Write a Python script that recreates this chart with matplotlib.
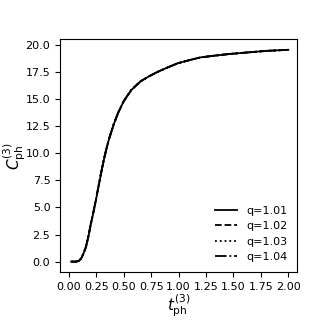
"""Phonon heat capacity C_ph^(3) vs t_ph^(3) for several q values."""
import matplotlib
matplotlib.use("Agg")
import matplotlib.pyplot as plt
from matplotlib.ticker import FormatStrFormatter

# values (the four q curves overlap almost exactly)
t_ph = [0.02, 0.06, 0.09, 0.11, 0.13, 0.155, 0.18, 0.20, 0.225, 0.245,
        0.27, 0.29, 0.32, 0.36, 0.41, 0.45, 0.50, 0.57, 0.655, 0.73,
        0.81, 0.90, 0.99, 1.10, 1.20, 1.32, 1.45, 1.62, 1.80, 2.00]
c_q101 = [0.0, 0.0, 0.05, 0.25, 0.65, 1.3, 2.4, 3.45, 4.6, 5.6,
          6.9, 7.95, 9.45, 11.1, 12.7, 13.75, 14.8, 15.85, 16.65, 17.1,
          17.52, 17.92, 18.3, 18.6, 18.85, 19.0, 19.15, 19.3, 19.45, 19.55]
c_q102 = [0.0, 0.0, 0.05, 0.26, 0.67, 1.32, 2.42, 3.47, 4.62, 5.62,
          6.92, 7.97, 9.47, 11.12, 12.71, 13.75, 14.8, 15.85, 16.65, 17.1,
          17.52, 17.92, 18.3, 18.6, 18.85, 19.0, 19.15, 19.3, 19.45, 19.55]
c_q103 = [0.0, 0.0, 0.06, 0.27, 0.69, 1.34, 2.45, 3.5, 4.65, 5.65,
          6.95, 8.0, 9.5, 11.14, 12.73, 13.77, 14.82, 15.86, 16.65, 17.1,
          17.52, 17.92, 18.3, 18.6, 18.85, 19.0, 19.15, 19.3, 19.45, 19.55]
c_q104 = [0.0, 0.0, 0.06, 0.28, 0.71, 1.37, 2.48, 3.53, 4.68, 5.68,
          6.98, 8.03, 9.52, 11.16, 12.75, 13.78, 14.83, 15.87, 16.66, 17.1,
          17.52, 17.92, 18.3, 18.6, 18.85, 19.0, 19.15, 19.3, 19.45, 19.55]

q_labels = ["q=1.01", "q=1.02", "q=1.03", "q=1.04"]
styles = ["-", "--", ":", "-."]
series = [c_q101, c_q102, c_q103, c_q104]

plt.rcParams["font.size"] = 8

fig = plt.figure(figsize=(3.32, 3.32), dpi=100)
ax = fig.add_axes([0.181, 0.180, 0.714, 0.702])

for vals, ls, lab in zip(series, styles, q_labels):
    ax.plot(t_ph, vals, color="black", linestyle=ls, linewidth=1.3, label=lab)

ax.set_xticks([0.0, 0.25, 0.5, 0.75, 1.0, 1.25, 1.5, 1.75, 2.0])
ax.set_yticks([0.0, 2.5, 5.0, 7.5, 10.0, 12.5, 15.0, 17.5, 20.0])
ax.xaxis.set_major_formatter(FormatStrFormatter("%.2f"))
ax.yaxis.set_major_formatter(FormatStrFormatter("%.1f"))
ax.set_xlim(-0.08, 2.08)
ax.set_ylim(-0.98, 20.53)

ax.set_xlabel(r"$t_{\rm ph}^{(3)}$", fontsize=11)
ax.set_ylabel(r"$C_{\rm ph}^{(3)}$", fontsize=11)
ax.xaxis.set_label_coords(0.5, -0.085)
ax.yaxis.set_label_coords(-0.135, 0.5)
ax.legend(loc="lower right", frameon=False, fontsize=8)

fig.savefig("out.png", dpi=100)
